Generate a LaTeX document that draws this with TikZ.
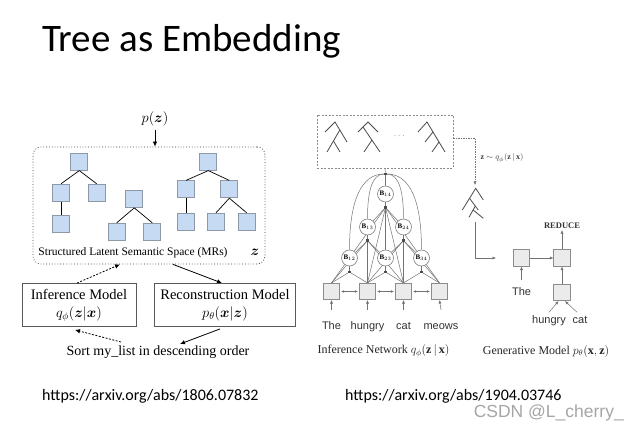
\documentclass[tikz,border=0pt]{standalone}
\usepackage{amsmath}
\usepackage{fontspec}
\setmainfont{Liberation Serif}
\newfontfamily\calfont{Carlito}
\newfontfamily\helvfont{Liberation Sans}
\usetikzlibrary{arrows.meta,calc}
\pgfdeclarelayer{bg}
\pgfdeclarelayer{paper}
\pgfsetlayers{paper,bg,main}
\definecolor{treeblue}{HTML}{C6DBF3}
\definecolor{treeline}{HTML}{8D99A6}
\tikzset{
  tbox/.style={draw=treeline, fill=treeblue, minimum size=17pt, inner sep=0pt, line width=0.8pt},
  tedge/.style={draw=black, line width=0.7pt},
  mbox/.style={draw=black!65, line width=0.9pt, align=center, minimum height=43pt, inner sep=2pt, font=\fontsize{14.5}{18}\selectfont},
  larr/.style={-{Latex[length=5pt,width=4.5pt]}, line width=0.8pt},
  ldash/.style={dash pattern=on 2pt off 1.5pt},
  gl/.style={draw=black!55, line width=0.5pt},
  garr/.style={-{Latex[length=3.5pt,width=3pt]}},
  gdarr/.style={{Latex[length=3pt,width=2.6pt]}-{Latex[length=3pt,width=2.6pt]}},
  wsq/.style={draw=black!45, fill=black!8, minimum size=16.5pt, inner sep=0pt, line width=0.6pt},
  bnode/.style={circle, draw=black!50, fill=white, minimum size=16pt, inner sep=0pt, line width=0.6pt, font=\fontsize{7}{8}\selectfont},
  jdot/.style={fill=black!70, minimum size=2.4pt, inner sep=0pt},
  word/.style={font=\helvfont\fontsize{11}{13}\selectfont, text=black!80, anchor=base, inner sep=1pt, text height=8pt, text depth=2.5pt},
  glyph/.style={draw=black!70, line width=0.8pt},
}
\begin{document}
\begin{tikzpicture}[x=1pt,y=-1pt]
\begin{pgfonlayer}{paper}
\fill[white] (0,0) rectangle (637,430);
\end{pgfonlayer}
\useasboundingbox (0,0) rectangle (637,430);

% ---------- title and links ----------
\node[anchor=base west, inner sep=0pt, font=\calfont\fontsize{39}{44}\selectfont] (title) at (42,52) {Tree as Embedding};
\node[anchor=base west, inner sep=0pt, font=\calfont\fontsize{16}{18}\selectfont] (url1) at (42,400) {https://arxiv.org/abs/1806.07832};
\node[anchor=base west, inner sep=0pt, font=\calfont\fontsize{16}{18}\selectfont] (url2) at (345,400) {https://arxiv.org/abs/1904.03746};
\node[anchor=base east, inner sep=0pt, text=black!35, font=\helvfont\fontsize{17.5}{20}\selectfont] (wm) at (624,417) {CSDN @L\_cherry\_};

% ---------- left diagram ----------
\node[font=\fontsize{15}{18}\selectfont] (pz) at (155,119) {$p(\boldsymbol{z})$};
\node[draw=black!75, dotted, line width=0.8pt, rounded corners=8pt, minimum width=232pt, minimum height=117pt] (space) at (149,205.5) {};
\draw[larr] (pz.south) -- (pz.south |- space.north);

\node[tbox] (t1r) at (79.3,161.7) {};
\node[tbox] (t1a) at (61,192.7) {};
\node[tbox] (t1b) at (96.7,192.7) {};
\node[tbox] (t1c) at (61,224) {};
\node[tbox] (t2r) at (134.3,199) {};
\node[tbox] (t2a) at (116.7,231.7) {};
\node[tbox] (t2b) at (152.3,231.7) {};
\node[tbox] (t3r) at (208.3,161.7) {};
\node[tbox] (t3a) at (186,189.3) {};
\node[tbox] (t3b) at (229.3,189.3) {};
\node[tbox] (t3c) at (186,221.7) {};
\node[tbox] (t3d) at (216,221.7) {};
\node[tbox] (t3e) at (246.7,221.7) {};
\foreach \p/\c in {t1r/t1a, t1r/t1b, t1a/t1c, t2r/t2a, t2r/t2b, t3r/t3a, t3r/t3b, t3a/t3c, t3b/t3d, t3b/t3e}
  \draw[tedge] (\p.south) -- (\c.north);

\node[font=\fontsize{11.5}{13}\selectfont] (slss) at (133,253) {Structured Latent Semantic Space (MRs)};
\node[font=\fontsize{14}{16}\selectfont] (zlab) at (255,252) {$\boldsymbol{z}$};

\node[mbox, minimum width=114pt] (inf) at (79,305) {Inference Model\\$q_\phi(\boldsymbol{z}|\boldsymbol{x})$};
\node[mbox, minimum width=141pt] (rec) at (225,305) {Reconstruction Model\\$p_\theta(\boldsymbol{x}|\boldsymbol{z})$};
\node[font=\fontsize{14}{16}\selectfont] (sort) at (158,352) {Sort my\_list in descending order};
\coordinate (s1) at (180,344);
\coordinate (s2) at (121,342);

\draw[larr, ldash] ($(inf.north)+(-2,0)$) -- ($(space.south)+(-29,0)$);
\draw[larr] ($(space.south)+(24,0)$) -- ($(rec.north)+(-3,0)$);
\draw[larr] ($(rec.south)+(-5,2)$) -- (s1);
\draw[larr, ldash] (s2) -- ($(inf.south)+(-4,3)$);

% ---------- right: inference network ----------
\node[draw=black!45, dash pattern=on 2pt off 1.5pt, line width=0.6pt, minimum width=136pt, minimum height=53pt] (samples) at (385,141.5) {};
\draw[glyph] (325,132) -- (335,122) -- (347,142);
\draw[glyph] (339.8,130) -- (327,152);
\draw[glyph] (333.5,141) -- (340,152);
\draw[glyph] (358,132) -- (368,122) -- (378,132);
\draw[glyph] (363,127) -- (380,152);
\draw[glyph] (372,140) -- (364,152);
\draw[glyph] (418,132) -- (427,122) -- (445,152);
\draw[glyph] (433,132) -- (425,142);
\draw[glyph] (439,142) -- (432,152);
\node[font=\fontsize{9}{10}\selectfont, text=black!70] (dots) at (400,136) {$\cdots$};

\node[jdot] (top) at (385.5,174) {};
\node[bnode] (b14) at (385.5,194) {$\mathbf{B}_{14}$};
\node[bnode] (b13) at (367.5,227) {$\mathbf{B}_{13}$};
\node[bnode] (b24) at (403.5,227) {$\mathbf{B}_{24}$};
\node[bnode] (b12) at (349.5,258) {$\mathbf{B}_{12}$};
\node[bnode] (b23) at (385.5,258) {$\mathbf{B}_{23}$};
\node[bnode] (b34) at (421.5,258) {$\mathbf{B}_{34}$};
\node[jdot] (d14) at (385.5,207.5) {};
\node[jdot] (d13) at (367.5,240.5) {};
\node[jdot] (d24) at (403.5,240.5) {};
\node[jdot] (d12) at (349.5,272) {};
\node[jdot] (d23) at (385.5,272) {};
\node[jdot] (d34) at (421.5,272) {};
\node[wsq] (w1) at (331.5,291.5) {};
\node[wsq] (w2) at (367.5,291.5) {};
\node[wsq] (w3) at (403.5,291.5) {};
\node[wsq] (w4) at (439.5,291.5) {};
\node[word] (t1) at (331.5,329) {The};
\node[word] (t2) at (367.5,329) {hungry};
\node[word] (t3) at (403.5,329) {cat};
\node[word] (t4) at (441,329) {meows};

\begin{pgfonlayer}{bg}
  \draw[gl] (samples.south) -- (top);
  \draw[gl] (top) -- (b14);
  \draw[gl] (top) .. controls +(-24,0) and +(0,-50) .. (b12.north);
  \draw[gl] (top) .. controls +(-14,0) and +(0,-26) .. (b13.north);
  \draw[gl] (top) .. controls +(14,0) and +(0,-26) .. (b24.north);
  \draw[gl] (top) .. controls +(24,0) and +(0,-50) .. (b34.north);
  \foreach \n in {12,13,14,23,24,34} \draw[gl] (b\n) -- (d\n);
  \foreach \a/\b in {d12/w1.north, d12/w2.north, d23/w2.north, d23/w3.north, d34/w3.north, d34/w4.north,
                     d13/b12, d13/b23, d13/w1.north, d13/w2.north, d13/w3.north,
                     d24/b23, d24/b34, d24/w2.north, d24/w3.north, d24/w4.north,
                     d14/b13, d14/b24, d14/b23, d14/w1.north, d14/w2.north, d14/w3.north, d14/w4.north}
    \draw[gl] (\a) -- (\b);
\end{pgfonlayer}

\foreach \i in {1,2,3,4} \draw[gl, garr] ($(t\i.north)+(0,-10)$) -- (w\i.south);
\draw[gl, gdarr, shorten <=1pt, shorten >=1pt] (w1) -- (w2);
\draw[gl, gdarr, shorten <=1pt, shorten >=1pt] (w2) -- (w3);
\draw[gl, gdarr, shorten <=1pt, shorten >=1pt] (w3) -- (w4);

\node[font=\fontsize{12}{14}\selectfont, text=black!85] (capI) at (383.5,351) {Inference Network $q_\phi(\mathbf{z}\,|\,\mathbf{x})$};

% ---------- right: generative model ----------
\coordinate (gtop) at (475,185);
\draw[gl, dash pattern=on 1.5pt off 1pt, garr] ($(samples.east)+(0,-3.5)$) -| (gtop);
\node[anchor=west, font=\fontsize{8}{9}\selectfont, text=black!75] (zq) at (477,158) {$\mathbf{z}\sim q_\phi(\mathbf{z}\,|\,\mathbf{x})$};
\draw[glyph] (462.3,210) -- (475.7,188.3) -- (483.3,200);
\draw[glyph] (469.5,198.3) -- (478.3,210);
\draw[glyph] (475.3,206) -- (469,217.3);
\draw[glyph] (473.1,210) -- (483.3,218.3);
\coordinate (gbot) at (475,222.5);
\coordinate (gend) at (496,258);
\draw[gl, garr] (gbot) |- (gend);

\node[wsq] (g1) at (521.5,258) {};
\node[wsq] (g2) at (562,258) {};
\node[wsq] (g3) at (562,292.5) {};
\node[font=\bfseries\fontsize{8.5}{9}\selectfont, text=black!80, inner sep=1pt] (red) at (562,226) {REDUCE};
\node[word] (gthe) at (521.5,295.5) {The};
\node[word] (ghun) at (549,323.5) {hungry};
\node[word] (gcat) at (580,323.5) {cat};
\draw[gl, garr] (g1) -- (g2);
\draw[gl, garr] (g3) -- (g2);
\draw[gl, garr] (g2) -- (red);
\draw[gl, garr] ($(gthe.north)+(0,-6)$) -- (g1.south);
\draw[gl, garr] ($(ghun.north)+(0,-2)$) -- ($(g3.south)+(-3.5,0)$);
\draw[gl, garr] ($(gcat.north)+(-3,-2)$) -- ($(g3.south)+(3,0)$);

\node[font=\fontsize{12}{14}\selectfont, text=black!85] (capG) at (546,351) {Generative Model $p_\theta(\mathbf{x},\mathbf{z})$};
\end{tikzpicture}
\end{document}
